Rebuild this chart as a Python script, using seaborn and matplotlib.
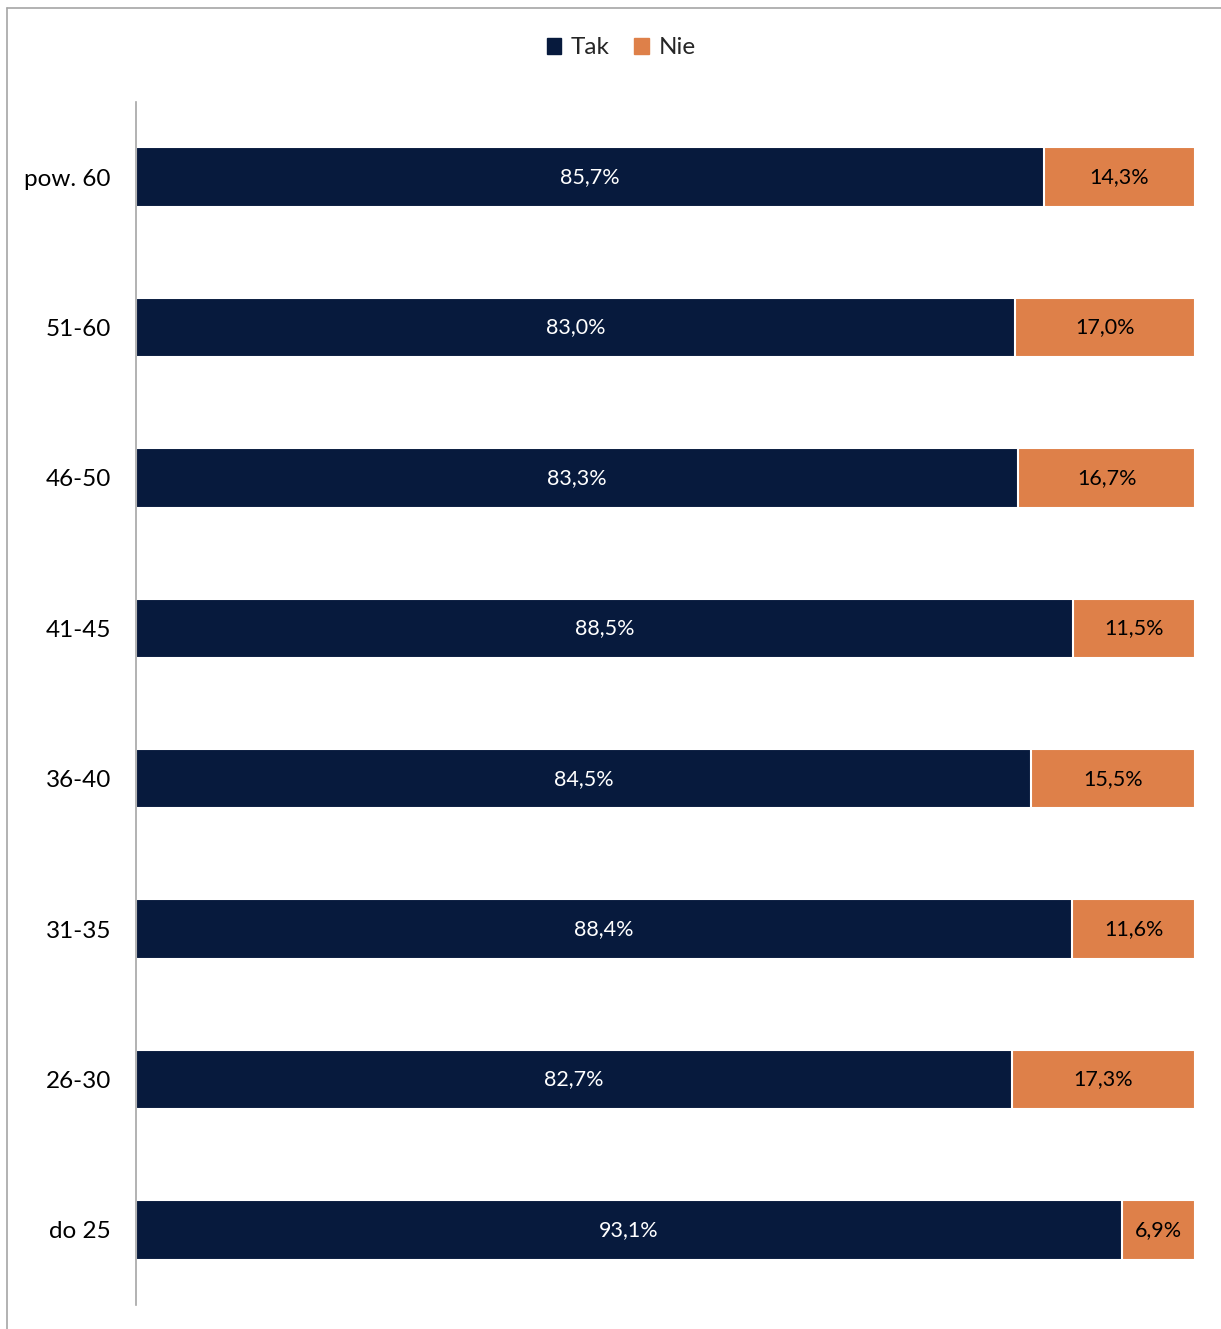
import pandas as pd
import numpy as np
import seaborn as sns
import matplotlib.pyplot as plt
from matplotlib.patches import Patch
from matplotlib.lines import Line2D

# Dane z wykresu (od góry do dołu)
grupy = ["pow. 60", "51-60", "46-50", "41-45", "36-40", "31-35", "26-30", "do 25"]
tak = [85.7, 83.0, 83.3, 88.5, 84.5, 88.4, 82.7, 93.1]
nie = [14.3, 17.0, 16.7, 11.5, 15.5, 11.6, 17.3, 6.9]

kolor_tak = "#071A3D"
kolor_nie = "#DE8049"

df = pd.DataFrame({"grupa": grupy, "Tak": tak, "Nie": nie})
df["razem"] = df["Tak"] + df["Nie"]

sns.set_theme(style="white")
plt.rcParams['font.family'] = ['Lato', 'DejaVu Sans']

fig = plt.figure(figsize=(12.21, 13.29), dpi=100)
ax = fig.add_axes([136 / 1221, 1 - 1305 / 1329, (1195 - 136) / 1221, (1305 - 102) / 1329])

# stos: najpierw całość (Nie), potem Tak na wierzchu
sns.barplot(data=df, y="grupa", x="razem", order=grupy, color=kolor_nie,
            width=0.395, edgecolor="white", linewidth=1.5, saturation=1, ax=ax)
sns.barplot(data=df, y="grupa", x="Tak", order=grupy, color=kolor_tak,
            width=0.395, edgecolor="white", linewidth=1.5, saturation=1, ax=ax)

fmt = lambda v: f"{v:.1f}%".replace(".", ",")

bars_nie = ax.containers[0]
bars_tak = ax.containers[1]
ax.bar_label(bars_tak, labels=[fmt(v) for v in tak], label_type="center",
             color="white", fontsize=15.5)
for i, (rect, v) in enumerate(zip(bars_nie, nie)):
    xs = tak[i]
    ax.text((xs + rect.get_width()) / 2, rect.get_y() + rect.get_height() / 2, fmt(v),
            ha="center", va="center", color="black", fontsize=15.5)

ax.set_xlim(0, 100)
ax.set_ylim(7.5, -0.5)
ax.set_xlabel("")
ax.set_ylabel("")
ax.set_xticks([])
ax.tick_params(axis="y", length=0, labelsize=17.5, pad=18, colors="black")
for s in ["top", "right", "bottom"]:
    ax.spines[s].set_visible(False)
ax.spines["left"].set_color("#A6A6A6")
ax.spines["left"].set_linewidth(1.2)

handles = [Patch(color=kolor_tak, label="Tak"), Patch(color=kolor_nie, label="Nie")]
fig.legend(handles=handles, loc="center", bbox_to_anchor=(621 / 1221, 1 - 48 / 1329),
           ncol=2, frameon=False, fontsize=17.5, handlelength=0.6, handleheight=0.6,
           handletextpad=0.4, columnspacing=1.0)

# ramka wykresu
fig.add_artist(Line2D([7.5 / 1221, 7.5 / 1221], [0, 1 - 8 / 1329], color="#A6A6A6", lw=1.2))
fig.add_artist(Line2D([7.5 / 1221, 1], [1 - 8 / 1329, 1 - 8 / 1329], color="#A6A6A6", lw=1.2))

fig.savefig("out.png", dpi=100, facecolor="white")
